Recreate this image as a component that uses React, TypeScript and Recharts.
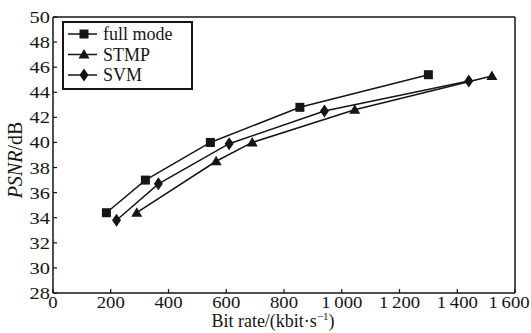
import { LineChart, Line, XAxis, YAxis, ReferenceLine, Label } from 'recharts';

// bit rate (kbit/s) and PSNR (dB)
const fullModeRate = [185, 320, 545, 855, 1300];
const fullModePsnr = [34.4, 37.0, 40.0, 42.8, 45.4];
const stmpRate = [290, 565, 690, 1045, 1520];
const stmpPsnr = [34.4, 38.5, 40.0, 42.6, 45.3];
const svmRate = [220, 365, 610, 940, 1440];
const svmPsnr = [33.8, 36.7, 39.9, 42.5, 44.9];

const seriesNames = ['full mode', 'STMP', 'SVM'];
const xTicks = [0, 200, 400, 600, 800, 1000, 1200, 1400, 1600];
const xTickLabels = ['0', '200', '400', '600', '800', '1\u2009000', '1\u2009200', '1\u2009400', '1\u2009600'];
const yTicks = [28, 30, 32, 34, 36, 38, 40, 42, 44, 46, 48, 50];

const toRows = (xs: number[], ys: number[]) => xs.map((x, i) => ({ rate: x, psnr: ys[i] }));

const INK = '#151515';
const FONT = '"Liberation Serif", "DejaVu Serif", serif';
const TICK_GAP = 3;

const SquareDot = (p: any) => <rect x={p.cx - 4.5} y={p.cy - 4.5} width={9} height={9} fill={INK} />;
const TriangleDot = (p: any) => (
    <polygon points={`${p.cx},${p.cy - 5.5} ${p.cx + 5.5},${p.cy + 4} ${p.cx - 5.5},${p.cy + 4}`} fill={INK} />
);
const DiamondDot = (p: any) => (
    <polygon points={`${p.cx},${p.cy - 6.5} ${p.cx + 4.5},${p.cy} ${p.cx},${p.cy + 6.5} ${p.cx - 4.5},${p.cy}`} fill={INK} />
);
const dots = [SquareDot, TriangleDot, DiamondDot];

// the scan's digits are wide, so stretch them a bit horizontally
const YTick = (p: any) => (
    <g>
        <line x1={p.x + TICK_GAP} x2={p.x + TICK_GAP + 4} y1={p.y} y2={p.y} stroke={INK} strokeWidth={1.2} />
        <text transform={`translate(${p.x} ${p.y + 6}) scale(1.2 1)`} textAnchor="end" fontSize={17} fontFamily={FONT} fill={INK}>
            {p.payload.value}
        </text>
    </g>
);

const XTick = (p: any) => {
    const idx = xTicks.indexOf(p.payload.value);
    const last = idx === xTicks.length - 1;
    return (
        <g>
            <line x1={p.x} x2={p.x} y1={p.y - TICK_GAP} y2={p.y - TICK_GAP - 4} stroke={INK} strokeWidth={1.2} />
            <text transform={`translate(${p.x - (last ? 6 : 0)} ${p.y + 12}) scale(1.1 1)`} textAnchor="middle" fontSize={17} fontFamily={FONT} fill={INK}>
                {xTickLabels[idx]}
            </text>
        </g>
    );
};

const LegendBox = () => (
    <svg width={131} height={69} style={{ position: 'absolute', left: 62, top: 21 }}>
        <rect x={1} y={1} width={129} height={67} fill="#fff" stroke={INK} strokeWidth={2} />
        {seriesNames.map((name, i) => {
            const cy = 13 + i * 20.5;
            const Dot = dots[i];
            return (
                <g key={name}>
                    <line x1={6} x2={35} y1={cy} y2={cy} stroke={INK} strokeWidth={1.5} />
                    <Dot cx={22} cy={cy} />
                    <text x={41} y={cy} dy={6} fontSize={18} fontFamily={FONT} fill={INK}>{name}</text>
                </g>
            );
        })}
    </svg>
);

export default function App() {
    const series = [
        toRows(fullModeRate, fullModePsnr),
        toRows(stmpRate, stmpPsnr),
        toRows(svmRate, svmPsnr),
    ];

    return (
        <div style={{ position: 'absolute', left: 0, top: 0, background: '#fff' }}>
            <LineChart width={531} height={333} margin={{ top: 17, right: 16, bottom: 0, left: 0 }}>
                <XAxis
                    dataKey="rate"
                    type="number"
                    domain={[0, 1600]}
                    ticks={xTicks}
                    interval={0}
                    allowDataOverflow
                    height={40}
                    tickSize={0}
                    tickMargin={TICK_GAP}
                    tick={<XTick />}
                    axisLine={{ stroke: INK, strokeWidth: 1.5 }}
                >
                    <Label
                        content={(props: any) => {
                            const vb = props.viewBox;
                            return (
                                <text x={vb.x + vb.width / 2 - 11} y={vb.y + 34} textAnchor="middle" fontSize={18} fontFamily={FONT} fill={INK}>
                                    Bit rate/(kbit·s<tspan dy={-7} fontSize={11}>−1</tspan><tspan dy={7}>)</tspan>
                                </text>
                            );
                        }}
                    />
                </XAxis>
                <YAxis
                    type="number"
                    domain={[28, 50]}
                    ticks={yTicks}
                    interval={0}
                    allowDataOverflow
                    width={53}
                    tickSize={0}
                    tickMargin={TICK_GAP}
                    tick={<YTick />}
                    axisLine={{ stroke: INK, strokeWidth: 1.5 }}
                >
                    <Label
                        content={(props: any) => {
                            const vb = props.viewBox;
                            const cx = vb.x + 22;
                            const cy = vb.y + vb.height / 2 + 5;
                            return (
                                <text x={cx} y={cy} transform={`rotate(-90 ${cx} ${cy})`} textAnchor="middle" fontSize={20} fontFamily={FONT} fill={INK}>
                                    <tspan fontStyle="italic">PSNR</tspan>/dB
                                </text>
                            );
                        }}
                    />
                </YAxis>
                <ReferenceLine y={50} stroke={INK} strokeWidth={1.5} />
                <ReferenceLine x={1600} stroke={INK} strokeWidth={1.5} />
                {series.map((rows, i) => (
                    <Line
                        key={seriesNames[i]}
                        data={rows}
                        dataKey="psnr"
                        name={seriesNames[i]}
                        type="linear"
                        stroke={INK}
                        strokeWidth={1.5}
                        dot={dots[i]}
                        activeDot={false}
                        isAnimationActive={false}
                    />
                ))}
            </LineChart>
            <LegendBox />
        </div>
    );
}
